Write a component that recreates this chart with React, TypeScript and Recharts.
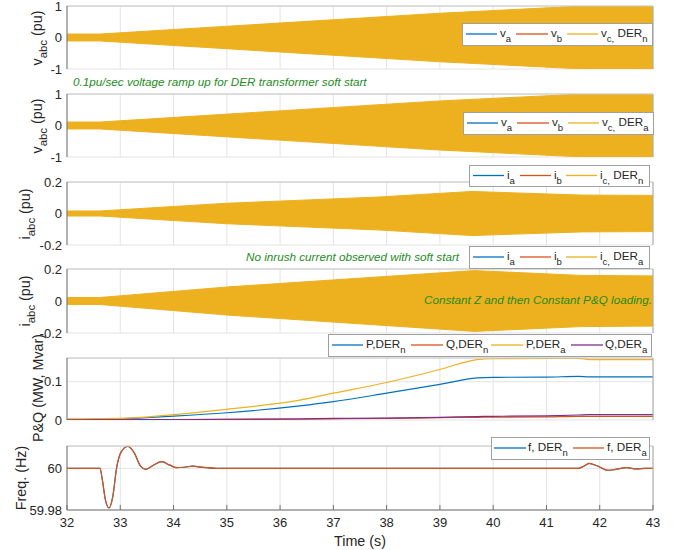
import React from 'react';
import { ComposedChart, Line, Area, XAxis, YAxis, CartesianGrid, ReferenceLine } from 'recharts';

// ---------- data ----------
const timeTicks = [32, 33, 34, 35, 36, 37, 38, 39, 40, 41, 42, 43];

// voltage envelopes (pu amplitude)
const vTimes = [32, 32.62, 39, 41.7, 43];
const vAmpN = [0.11, 0.11, 0.77, 1.0, 1.0];
const vAmpA = [0.11, 0.11, 0.78, 1.0, 1.0];

// current envelopes (pu amplitude)
const iTimesN = [32, 32.62, 35, 37.87, 39.6, 41.65, 43];
const iAmpN = [0.016, 0.016, 0.065, 0.105, 0.14, 0.117, 0.115];
const iTimesA = [32, 32.62, 35.06, 39.65, 41.65, 43];
const iAmpA = [0.022, 0.022, 0.089, 0.19, 0.16, 0.157];

// P & Q
const pqTimes = [32, 33, 34, 35, 36.37, 37, 38, 39, 39.7, 40, 41, 41.6, 41.8, 42, 43];
const pN = [0.001, 0.003, 0.010, 0.019, 0.037, 0.048, 0.070, 0.093, 0.110, 0.1115, 0.112, 0.114, 0.1125, 0.1125, 0.1125];
const qN = [0, 0.0005, 0.001, 0.0015, 0.002, 0.003, 0.004, 0.006, 0.007, 0.0075, 0.008, 0.0095, 0.0095, 0.0095, 0.0095];
const pA = [0.003, 0.004, 0.014, 0.028, 0.052, 0.070, 0.098, 0.132, 0.158, 0.160, 0.161, 0.161, 0.158, 0.158, 0.158];
const qA = [0, 0.0005, 0.001, 0.002, 0.003, 0.004, 0.005, 0.007, 0.009, 0.0095, 0.011, 0.013, 0.014, 0.014, 0.014];

// frequency
const fTimes = [32, 32.62, 32.66, 32.72, 32.79, 32.86, 32.93, 33.02, 33.14, 33.26, 33.38, 33.48, 33.62, 33.78, 33.93, 34.06, 34.2, 34.36, 34.55, 34.8, 35, 41.6, 41.7, 41.8, 41.95, 42.15, 42.3, 42.5, 42.7, 42.85, 43];
const fA = [60, 60, 59.995, 59.985, 59.981, 59.9865, 60.0, 60.008, 60.0105, 60.0075, 60.001, 59.9995, 60.0015, 60.0032, 60.0015, 60.0003, 60.0005, 60.001, 60.0004, 60.0, 60, 60, 60.001, 60.0024, 60.0012, 59.999, 59.9995, 60.0003, 59.9997, 60.0, 60];
const fN = fA;

// ---------- derived tables ----------
const band = (ts: number[], amps: number[]) => ts.map((t, i) => ({ t, r: [-amps[i], amps[i]] }));
const vDataN = band(vTimes, vAmpN);
const vDataA = band(vTimes, vAmpA);
const iDataN = band(iTimesN, iAmpN);
const iDataA = band(iTimesA, iAmpA);
const pqData = pqTimes.map((t, i) => ({ t, pN: pN[i], qN: qN[i], pA: pA[i], qA: qA[i] }));
const fData = fTimes.map((t, i) => ({ t, fN: fN[i], fA: fA[i] }));

// ---------- styles ----------
const C1 = '#0072BD', C2 = '#D95319', C3 = '#EDB120', C4 = '#7E2F8E';
const AX = '#707070';
const GRID = '#e3e3e3';
const TXT = '#262626';
const GREEN = '#1d8c1d';
const FONT = 'Liberation Sans, Arial, Helvetica, sans-serif';

const XTick = (props: any) => {
  const { x, y, payload, showLabel } = props;
  return (
    <g>
      <line x1={x} x2={x} y1={y} y2={y - 5} stroke={AX} strokeWidth={1} />
      {showLabel && (
        <text x={x} y={y + 8} dy="0.71em" textAnchor="middle" fontSize={13} fill={TXT} fontFamily={FONT}>
          {payload.value}
        </text>
      )}
    </g>
  );
};

const YTick = (props: any) => {
  const { x, y, payload } = props;
  return (
    <text x={x - 5} y={y} dy="0.35em" textAnchor="end" fontSize={13} fill={TXT} fontFamily={FONT}>
      {payload.value}
    </text>
  );
};

function Panel(props: {
  plotTop: number; plotBottom: number; data: any[]; yDomain: [number, number]; yTicks: number[];
  showX?: boolean; children: React.ReactNode;
}) {
  const { plotTop, plotBottom, data, yDomain, yTicks, showX, children } = props;
  const mTop = 10, mBottom = 10;
  const xh = showX ? 30 : 0;
  const h = plotBottom - plotTop + mTop + mBottom + xh;
  return (
    <div style={{ position: 'absolute', left: 0, top: plotTop - mTop }}>
      <ComposedChart width={682} height={h} data={data} margin={{ top: mTop, right: 29, bottom: mBottom, left: 0 }}>
        <CartesianGrid stroke={GRID} strokeWidth={1} />
        <XAxis
          dataKey="t" type="number" domain={[32, 43]} ticks={timeTicks} allowDataOverflow
          height={xh} tickSize={0} tickMargin={0} tickLine={false}
          axisLine={{ stroke: AX }} interval={0}
          tick={<XTick showLabel={!!showX} />}
        />
        <YAxis
          type="number" domain={yDomain} ticks={yTicks} allowDataOverflow width={67}
          tickSize={0} tickMargin={0} tickLine={false} axisLine={{ stroke: AX }} interval={0}
          tick={<YTick />}
        />
        {children}
        <ReferenceLine x={43} stroke="#a8a8a8" strokeWidth={1} />
        <ReferenceLine y={yDomain[1]} stroke="#c8c8c8" strokeWidth={1} />
      </ComposedChart>
    </div>
  );
}

type Part = { t: string; sub?: boolean };
type LegendItem = { color: string; x1: number; x2: number; tx: number; parts: Part[] };

function LegendBox({ x, y, w, h, items }: { x: number; y: number; w: number; h: number; items: LegendItem[] }) {
  const cy = y + h / 2;
  return (
    <g>
      <rect x={x + 0.5} y={y + 0.5} width={w} height={h} fill="#fff" stroke="#a0a0a0" strokeWidth={1} />
      {items.map((it, i) => (
        <g key={i}>
          <line x1={it.x1} x2={it.x2} y1={cy} y2={cy} stroke={it.color} strokeWidth={1.3} />
          <text x={it.tx} y={cy + 3} fontSize={11.7} fill={TXT} fontFamily={FONT}>
            {it.parts.map((p, j) =>
              p.sub ? (
                <tspan key={j} fontSize={9.5} dy={5}>{p.t}</tspan>
              ) : (
                <tspan key={j} dy={j > 0 && it.parts[j - 1].sub ? -5 : 0}>{p.t}</tspan>
              )
            )}
          </text>
        </g>
      ))}
    </g>
  );
}

function RotLabel({ x, y, parts, size = 14.3 }: { x: number; y: number; parts: Part[]; size?: number }) {
  return (
    <text x={x} y={y} transform={`rotate(-90 ${x} ${y})`} textAnchor="middle" fontSize={size} fill={TXT} fontFamily={FONT}>
      {parts.map((p, j) =>
        p.sub ? (
          <tspan key={j} fontSize={size * 0.8} dy={5}>{p.t}</tspan>
        ) : (
          <tspan key={j} dy={j > 0 && parts[j - 1].sub ? -5 : 0}>{p.t}</tspan>
        )
      )}
    </text>
  );
}

const vItems = (off: number, der: string): LegendItem[] => [
  { color: C1, x1: 466 + off, x2: 497 + off, tx: 500 + off, parts: [{ t: 'v' }, { t: 'a', sub: true }] },
  { color: C2, x1: 516 + off, x2: 548 + off, tx: 551 + off, parts: [{ t: 'v' }, { t: 'b', sub: true }] },
  { color: C3, x1: 567 + off, x2: 598 + off, tx: 601 + off, parts: [{ t: 'v' }, { t: 'c,', sub: true }, { t: ' DER' }, { t: der, sub: true }] },
];
const iItems = (der: string): LegendItem[] => [
  { color: C1, x1: 473, x2: 504, tx: 507, parts: [{ t: 'i' }, { t: 'a', sub: true }] },
  { color: C2, x1: 520, x2: 551, tx: 554, parts: [{ t: 'i' }, { t: 'b', sub: true }] },
  { color: C3, x1: 566, x2: 597, tx: 600, parts: [{ t: 'i' }, { t: 'c,', sub: true }, { t: ' DER' }, { t: der, sub: true }] },
];
const pqItems: LegendItem[] = [
  { color: C1, x1: 332, x2: 363, tx: 366, parts: [{ t: 'P,DER' }, { t: 'n', sub: true }] },
  { color: C2, x1: 411, x2: 443, tx: 446, parts: [{ t: 'Q,DER' }, { t: 'n', sub: true }] },
  { color: C3, x1: 491, x2: 523, tx: 526, parts: [{ t: 'P,DER' }, { t: 'a', sub: true }] },
  { color: C4, x1: 571, x2: 603, tx: 605, parts: [{ t: 'Q,DER' }, { t: 'a', sub: true }] },
];
const fItems: LegendItem[] = [
  { color: C1, x1: 494, x2: 526, tx: 528, parts: [{ t: 'f, DER' }, { t: 'n', sub: true }] },
  { color: C2, x1: 573, x2: 604, tx: 607, parts: [{ t: 'f, DER' }, { t: 'a', sub: true }] },
];

const bandArea = (
  <Area dataKey="r" type="linear" fill={C3} fillOpacity={1} stroke={C3} strokeWidth={1} isAnimationActive={false} dot={false} activeDot={false} />
);

export default function App() {
  return (
    <div style={{ position: 'absolute', left: 0, top: 0, width: 682, height: 550, background: '#fff', overflow: 'hidden' }}>
      <Panel plotTop={6} plotBottom={69} data={vDataN} yDomain={[-1, 1]} yTicks={[-1, 0, 1]}>{bandArea}</Panel>
      <Panel plotTop={94} plotBottom={157} data={vDataA} yDomain={[-1, 1]} yTicks={[-1, 0, 1]}>{bandArea}</Panel>
      <Panel plotTop={182} plotBottom={245} data={iDataN} yDomain={[-0.2, 0.2]} yTicks={[-0.2, 0, 0.2]}>{bandArea}</Panel>
      <Panel plotTop={269} plotBottom={333} data={iDataA} yDomain={[-0.2, 0.2]} yTicks={[-0.2, 0, 0.2]}>{bandArea}</Panel>
      <Panel plotTop={358} plotBottom={420} data={pqData} yDomain={[0, 0.162]} yTicks={[0, 0.1]}>
        <Line dataKey="pN" type="monotone" stroke={C1} strokeWidth={1.2} dot={false} isAnimationActive={false} />
        <Line dataKey="qN" type="monotone" stroke={C2} strokeWidth={1.2} dot={false} isAnimationActive={false} />
        <Line dataKey="pA" type="monotone" stroke={C3} strokeWidth={1.2} dot={false} isAnimationActive={false} />
        <Line dataKey="qA" type="monotone" stroke={C4} strokeWidth={1.2} dot={false} isAnimationActive={false} />
      </Panel>
      <Panel plotTop={446} plotBottom={510} data={fData} yDomain={[59.98, 60.0107]} yTicks={[59.98, 60]} showX>
        <Line dataKey="fN" type="monotone" stroke={C1} strokeWidth={1.2} dot={false} isAnimationActive={false} />
        <Line dataKey="fA" type="monotone" stroke={C2} strokeWidth={1.2} dot={false} isAnimationActive={false} />
      </Panel>

      <svg width={682} height={550} style={{ position: 'absolute', left: 0, top: 0, pointerEvents: 'none' }}>
        <LegendBox x={462} y={23} w={190} h={22} items={vItems(0, 'n')} />
        <LegendBox x={463} y={112} w={190} h={22} items={vItems(1, 'a')} />
        <LegendBox x={469} y={165} w={180} h={21} items={iItems('n')} />
        <LegendBox x={469} y={246} w={180} h={22} items={iItems('a')} />
        <LegendBox x={328} y={334} w={323} h={22} items={pqItems} />
        <LegendBox x={491} y={437} w={158} h={22} items={fItems} />

        <text x={73} y={86} fontSize={11.7} fontStyle="italic" fill={GREEN} fontFamily={FONT}>
          0.1pu/sec voltage ramp up for DER transformer soft start
        </text>
        <text x={246} y={261} fontSize={11.7} fontStyle="italic" fill={GREEN} fontFamily={FONT}>
          No inrush current observed with soft start
        </text>
        <text x={652} y={303.5} textAnchor="end" fontSize={11.7} fontStyle="italic" fill={GREEN} fontFamily={FONT}>
          Constant Z and then Constant P&amp;Q loading.
        </text>

        <RotLabel x={42} y={38} parts={[{ t: 'v' }, { t: 'abc', sub: true }, { t: ' (pu)' }]} />
        <RotLabel x={42} y={126} parts={[{ t: 'v' }, { t: 'abc', sub: true }, { t: ' (pu)' }]} />
        <RotLabel x={30} y={214} parts={[{ t: 'i' }, { t: 'abc', sub: true }, { t: ' (pu)' }]} />
        <RotLabel x={30} y={301} parts={[{ t: 'i' }, { t: 'abc', sub: true }, { t: ' (pu)' }]} />
        <RotLabel x={43} y={388} parts={[{ t: 'P&Q (MW, Mvar)' }]} />
        <RotLabel x={26} y={478} parts={[{ t: 'Freq. (Hz)' }]} />

        <text x={360} y={546} textAnchor="middle" fontSize={14.3} fill={TXT} fontFamily={FONT}>Time (s)</text>
      </svg>
    </div>
  );
}
